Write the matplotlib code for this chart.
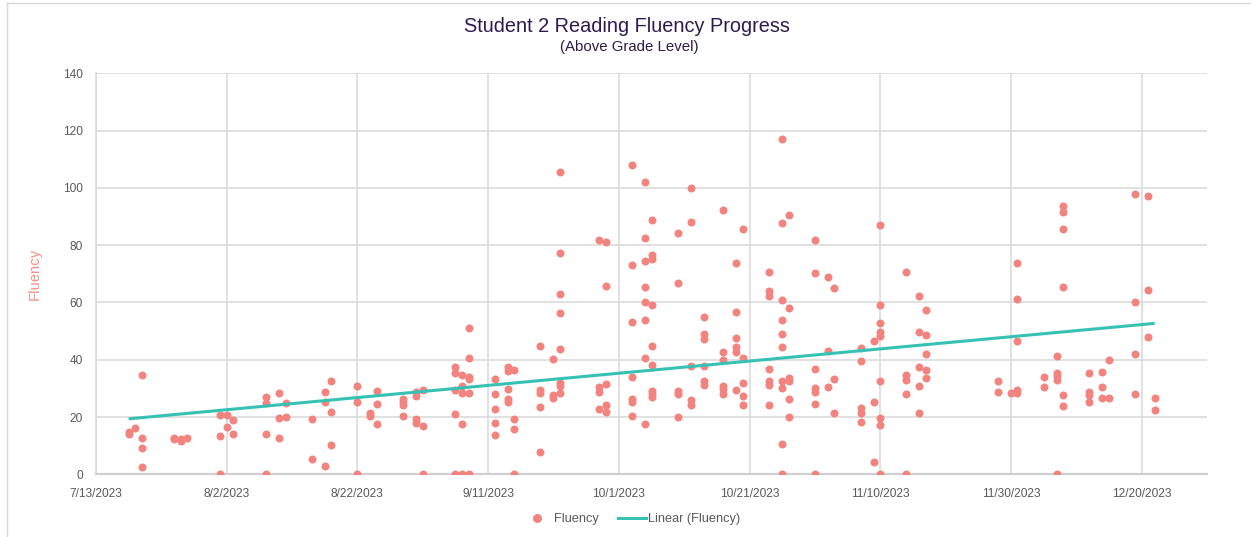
import matplotlib
matplotlib.use("Agg")
import matplotlib.pyplot as plt
import matplotlib.dates as mdates
from matplotlib.lines import Line2D
import numpy as np
import pandas as pd

plt.rcParams['font.family'] = ['Liberation Sans', 'DejaVu Sans']

# ---------------- data ----------------
session_dates = [
    "2023-07-18", "2023-07-19", "2023-07-20", "2023-07-25", "2023-07-26", "2023-07-27",
    "2023-08-01", "2023-08-02", "2023-08-03", "2023-08-08", "2023-08-10", "2023-08-11",
    "2023-08-15", "2023-08-17", "2023-08-18", "2023-08-22", "2023-08-24", "2023-08-25",
    "2023-08-29", "2023-08-31", "2023-09-01", "2023-09-06", "2023-09-07", "2023-09-08",
    "2023-09-12", "2023-09-14", "2023-09-15", "2023-09-19", "2023-09-21", "2023-09-22",
    "2023-09-28", "2023-09-29", "2023-10-03", "2023-10-05", "2023-10-06", "2023-10-10",
    "2023-10-12", "2023-10-14", "2023-10-17", "2023-10-19", "2023-10-20", "2023-10-24",
    "2023-10-26", "2023-10-27", "2023-10-31", "2023-11-02", "2023-11-03", "2023-11-07",
    "2023-11-09", "2023-11-10", "2023-11-14", "2023-11-16", "2023-11-17", "2023-11-28",
    "2023-11-30", "2023-12-01", "2023-12-05", "2023-12-07", "2023-12-08", "2023-12-12",
    "2023-12-14", "2023-12-15", "2023-12-19", "2023-12-21", "2023-12-22",
]

fluency_scores = [
    [14.9, 14.0], [16.1], [34.5, 12.8, 9.1, 2.7], [12.6, 12.2], [11.6, 12.4], [12.8],
    [20.6, 13.4, 0], [20.6, 16.6], [18.9, 14.1], [26.9, 24.8, 14.0, 0], [28.3, 19.6, 12.7], [25.0, 20.0],
    [19.4, 5.4], [28.8, 25.4, 2.9], [32.6, 21.8, 10.2], [31.0, 25.1, 0], [21.4, 20.4], [29.1, 24.4, 17.6],
    [26.3, 25.4, 24.2, 20.4], [28.8, 27.5, 19.4, 17.9], [29.3, 17.0, 0], [37.4, 35.5, 29.4, 21.1, 0],
    [34.7, 30.8, 28.3, 17.5, 0], [51.2, 40.5, 34.1, 33.2, 28.5, 0],
    [33.2, 28.1, 22.9, 18.0, 13.6], [37.4, 35.9, 29.7, 26.3, 25.1], [36.4, 19.2, 15.8, 0],
    [44.9, 29.5, 28.5, 23.6, 7.9], [40.3, 27.7, 26.5], [105.7, 77.2, 62.9, 56.2, 43.7, 32.0, 30.8, 28.3],
    [81.8, 30.6, 28.6, 22.9], [81.0, 65.8, 31.5, 24.3, 21.9], [108.0, 73.2, 53.3, 34.0, 26.2, 25.1, 20.4],
    [101.9, 82.4, 74.6, 65.5, 60.1, 53.7, 40.7, 17.6], [88.7, 76.4, 75.1, 59.0, 44.8, 38.3, 29.1, 27.9, 26.9],
    [84.2, 66.9, 29.1, 27.9, 19.9],
    [99.9, 88.1, 37.8, 26.0, 24.2], [54.8, 49.0, 47.1, 37.8, 32.4, 31.2], [92.3, 42.8, 39.9, 30.8, 29.7, 27.9],
    [73.7, 56.5, 47.5, 44.4, 42.8, 29.5], [85.6, 40.7, 31.8, 27.4, 24.1], [70.5, 64.1, 62.3, 36.7, 32.4, 31.2, 24.1],
    [117.1, 87.7, 60.9, 53.7, 49.0, 44.6, 32.6, 30.3, 10.6, 0], [90.6, 58.2, 33.5, 32.4, 26.3, 19.9],
    [81.8, 70.4, 36.7, 30.0, 28.6, 24.6, 0], [69.0, 43.1, 30.4], [65.0, 33.2, 21.3], [44.0, 39.7, 23.1, 21.3, 18.2],
    [46.6, 25.1, 4.4], [87.1, 59.0, 52.7, 49.8, 48.3, 32.6, 19.6, 17.2, 0], [70.8, 34.7, 32.9, 28.1, 0],
    [62.4, 49.8, 37.4, 31.0, 21.5], [57.4, 48.7, 42.1, 36.4, 33.5], [32.4, 28.8],
    [28.3], [73.7, 61.1, 46.6, 29.5, 28.3], [33.9, 30.4], [41.3, 35.3, 34.3, 32.9, 0],
    [93.8, 91.7, 85.6, 65.5, 27.8, 24.0], [35.5, 28.9, 27.7, 25.1],
    [35.6, 30.6, 26.5], [39.9, 26.5], [97.8, 60.1, 41.9, 27.9], [97.3, 64.4, 48.1], [26.5, 22.5],
]

x_tick_labels = ["7/13/2023", "8/2/2023", "8/22/2023", "9/11/2023", "10/1/2023",
                 "10/21/2023", "11/10/2023", "11/30/2023", "12/20/2023"]
y_ticks = [0, 20, 40, 60, 80, 100, 120, 140]

# ---------------- flatten ----------------
dates, values = [], []
for d, scores in zip(session_dates, fluency_scores):
    for v in scores:
        dates.append(pd.Timestamp(d))
        values.append(v)
xnum = mdates.date2num(dates)
values = np.array(values)

# ---------------- figure ----------------
W, H = 1251, 537
fig = plt.figure(figsize=(W / 100, H / 100), dpi=100)
ax = fig.add_axes([96 / W, 1 - 474.3 / H, (1207 - 96) / W, (474.3 - 73.3) / H])

dot_color = '#F2837F'
line_color = '#35C2B3'
grid_color = '#D9D9D9'
text_gray = '#595959'

ax.scatter(dates, values, s=33, color=dot_color, linewidths=0, zorder=3, label='Fluency')

# linear trend
slope, intercept = np.polyfit(xnum, values, 1)
xt = np.array([xnum.min(), xnum.max()])
ax.plot(mdates.num2date(xt), slope * xt + intercept, color=line_color, lw=2.2,
        zorder=4, solid_capstyle='butt', label='Linear (Fluency)')

tick_dates = pd.to_datetime(x_tick_labels, format="%m/%d/%Y")
ax.set_xticks(tick_dates)
ax.set_xticklabels(x_tick_labels)
ax.set_xlim(pd.Timestamp("2023-07-13"), pd.Timestamp("2023-12-30"))
ax.set_ylim(0, 140)
ax.set_yticks(y_ticks)

ax.grid(True, color=grid_color, lw=1.1, zorder=0)
ax.set_axisbelow(True)
for side in ['top', 'right']:
    ax.spines[side].set_visible(False)
ax.spines['left'].set_color(grid_color)
ax.spines['left'].set_linewidth(1.1)
ax.spines['bottom'].set_color('#D0D0D0')
ax.spines['bottom'].set_linewidth(1.6)
ax.tick_params(axis='both', length=0, labelsize=8.6, labelcolor=text_gray)
ax.tick_params(axis='x', pad=10)
ax.tick_params(axis='y', pad=9.5)

ax.set_ylabel('Fluency', color='#F4908A', fontsize=10.7, labelpad=15)

# titles
fig.text(627 / W, 1 - 27 / H, 'Student 2 Reading Fluency Progress', ha='center', va='center',
         fontsize=14.3, color='#2E1A4F')
fig.text(629 / W, 1 - 47 / H, '(Above Grade Level)', ha='center', va='center',
         fontsize=10.8, color='#2E1A4F')

# legend
handles = [
    Line2D([], [], ls='none', marker='o', markersize=6.5, markerfacecolor=dot_color,
           markeredgewidth=0),
    Line2D([], [], color=line_color, lw=2.2),
]
fig.legend(handles, ['Fluency', 'Linear (Fluency)'], loc='center', ncol=2,
           bbox_to_anchor=(632 / W, 1 - 519 / H), frameon=False, fontsize=9.2,
           labelcolor=text_gray, handlelength=2.2, handletextpad=0.2, columnspacing=1.5)

# outer frame (left and top edges visible)
fig.add_artist(Line2D([6.5 / W, 6.5 / W], [0, 1 - 3.3 / H], transform=fig.transFigure,
                      color='#D9D9D9', lw=1))
fig.add_artist(Line2D([6.5 / W, 1], [1 - 3.3 / H, 1 - 3.3 / H], transform=fig.transFigure,
                      color='#D9D9D9', lw=1))

fig.savefig('out.png', dpi=100)
